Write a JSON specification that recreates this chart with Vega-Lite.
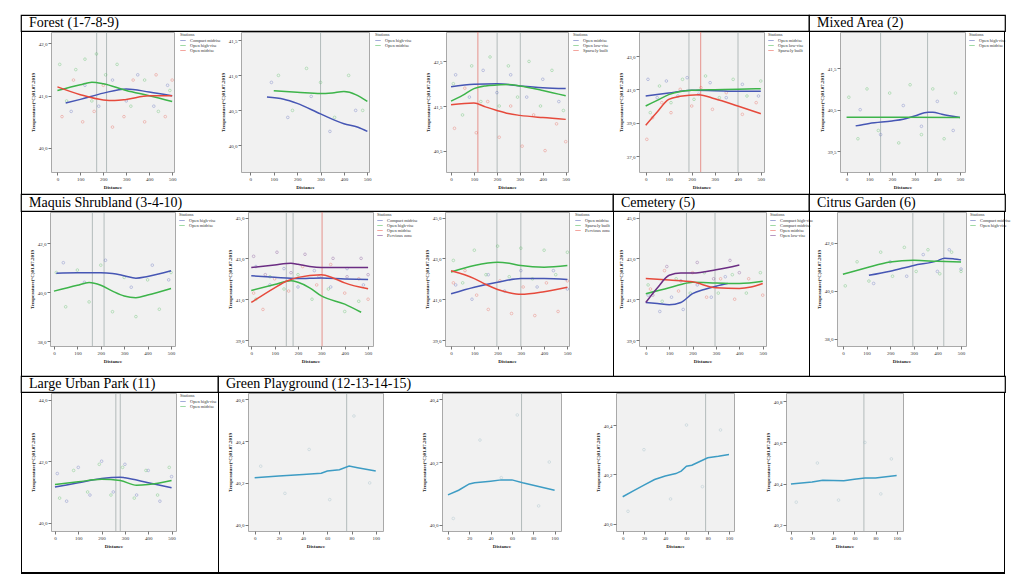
{
"$schema": "https://vega.github.io/schema/vega-lite/v6.json",
"padding": {"left": 20, "top": 14, "right": 0, "bottom": 0},
"background": "white",
"spacing": -3,
"resolve": {"scale": {"color": "independent", "x": "independent", "y": "independent"}, "legend": {"color": "independent"}},
"config": {
  "view": {"stroke": "#a9a9a9", "fill": "#f1f1f1"},
  "axis": {"labelFontSize": 5, "titleFontSize": 5, "labelFont": "Liberation Serif", "titleFont": "Liberation Serif", "grid": false, "domain": false, "tickSize": 3, "tickColor": "#777", "labelColor": "#333", "titleColor": "#222", "labelPadding": 1, "titlePadding": 3, "titleFontWeight": "bold", "labelOverlap": false},
  "legend": {"labelFontSize": 4.5, "titleFontSize": 4.5, "labelFont": "Liberation Serif", "titleFont": "Liberation Serif", "titleFontWeight": "normal", "symbolType": "stroke", "symbolSize": 30, "symbolStrokeWidth": 1.5, "rowPadding": 0, "offset": 4, "padding": 0, "titlePadding": 1, "labelColor": "#333", "titleColor": "#333"},
  "text": {"font": "Liberation Serif", "fontSize": 14, "color": "#000", "align": "left", "baseline": "middle", "dx": 8},
  "point": {"filled": false, "size": 7, "strokeWidth": 0.5, "opacity": 0.6},
  "locale": {"number": {"decimal": ",", "thousands": ".", "grouping": [3], "currency": ["", ""]}}
},
"vconcat": [
  {"hconcat": [
    {"width": 788, "height": 16, "view": {"stroke": "#000", "strokeWidth": 1.2, "fill": "#fff"}, "data": {"values": [{"label": "Forest (1-7-8-9)", "p": 0}]}, "mark": {"type": "text"}, "encoding": {"x": {"field": "p", "type": "quantitative", "scale": {"domain": [0, 1]}, "axis": null}, "text": {"field": "label"}}},
    {"width": 196, "height": 16, "view": {"stroke": "#000", "strokeWidth": 1.2, "fill": "#fff"}, "data": {"values": [{"label": "Mixed Area (2)", "p": 0}]}, "mark": {"type": "text"}, "encoding": {"x": {"field": "p", "type": "quantitative", "scale": {"domain": [0, 1]}, "axis": null}, "text": {"field": "label"}}}
  ], "spacing": 0, "bounds": "flush", "resolve": {"scale": {"x": "independent"}}},
  {"hconcat": [
    {"width": 1, "height": 162, "view": {"fill": "#000", "stroke": null}, "data": {"values": [{}]}, "mark": {"type": "point", "opacity": 0}},
    {"width": 29, "height": 162, "view": {"fill": null, "stroke": null}, "data": {"values": [{}]}, "mark": {"type": "point", "opacity": 0}},
    {"width": 123, "height": 140,
     "data": {"values": [
       {"s":"Compact midrise","d":36,"t":40.86},{"s":"Compact midrise","d":100,"t":40.93},{"s":"Compact midrise","d":200,"t":41.05},{"s":"Compact midrise","d":300,"t":41.13},{"s":"Compact midrise","d":400,"t":41.07},{"s":"Compact midrise","d":500,"t":41.0},
       {"s":"Open high-rise","d":0,"t":41.10},{"s":"Open high-rise","d":100,"t":41.21},{"s":"Open high-rise","d":150,"t":41.26},{"s":"Open high-rise","d":200,"t":41.23},{"s":"Open high-rise","d":300,"t":41.10},{"s":"Open high-rise","d":400,"t":41.0},{"s":"Open high-rise","d":500,"t":40.89},
       {"s":"Open midrise","d":0,"t":41.17},{"s":"Open midrise","d":100,"t":41.02},{"s":"Open midrise","d":200,"t":40.92},{"s":"Open midrise","d":250,"t":40.91},{"s":"Open midrise","d":300,"t":40.93},{"s":"Open midrise","d":400,"t":41.0},{"s":"Open midrise","d":500,"t":41.0}
     ]},
     "encoding": {"x": {"field": "d", "type": "quantitative", "scale": {"domain": [-28, 508], "nice": false, "zero": false}, "axis": {"title": "Distance", "values": [0,100,200,300,400,500], "format": "d"}}},
     "layer": [
       {"data": {"values": [{"d":171},{"d":214}]}, "mark": {"type": "rule", "color": "#a3adad", "strokeWidth": 0.8}, "encoding": {}},
       {"data": {"values": [
         {"s":"Compact midrise","d":60,"t":40.7},{"s":"Compact midrise","d":120,"t":41.2},{"s":"Compact midrise","d":180,"t":40.8},{"s":"Compact midrise","d":240,"t":41.3},{"s":"Compact midrise","d":300,"t":40.9},{"s":"Compact midrise","d":350,"t":41.4},{"s":"Compact midrise","d":420,"t":40.8},{"s":"Compact midrise","d":480,"t":41.2},
         {"s":"Open high-rise","d":10,"t":41.6},{"s":"Open high-rise","d":40,"t":40.9},{"s":"Open high-rise","d":80,"t":41.5},{"s":"Open high-rise","d":120,"t":41.7},{"s":"Open high-rise","d":150,"t":40.9},{"s":"Open high-rise","d":170,"t":41.8},{"s":"Open high-rise","d":210,"t":41.4},{"s":"Open high-rise","d":260,"t":41.6},{"s":"Open high-rise","d":320,"t":40.8},{"s":"Open high-rise","d":380,"t":41.3},{"s":"Open high-rise","d":440,"t":40.7},{"s":"Open high-rise","d":490,"t":41.1},
         {"s":"Open midrise","d":20,"t":40.6},{"s":"Open midrise","d":70,"t":41.3},{"s":"Open midrise","d":110,"t":40.5},{"s":"Open midrise","d":160,"t":40.7},{"s":"Open midrise","d":200,"t":41.2},{"s":"Open midrise","d":240,"t":40.4},{"s":"Open midrise","d":290,"t":40.6},{"s":"Open midrise","d":330,"t":41.3},{"s":"Open midrise","d":380,"t":40.5},{"s":"Open midrise","d":430,"t":41.4},{"s":"Open midrise","d":470,"t":40.6},{"s":"Open midrise","d":500,"t":41.3}
       ]}, "mark": {"type": "point"},
        "encoding": {"y": {"field": "t", "type": "quantitative", "scale": {"domain": [39.54, 42.22], "nice": false, "zero": false}},
          "color": {"field": "s", "type": "nominal", "scale": {"domain": ["Compact midrise","Open high-rise","Open midrise"], "range": ["#4656b4","#3db44a","#e64a3c"]}}}},
       {"mark": {"type": "line", "strokeWidth": 1.5, "interpolate": "monotone"},
        "encoding": {"y": {"field": "t", "type": "quantitative", "scale": {"domain": [39.54, 42.22], "nice": false, "zero": false}, "axis": {"title": "Temperature(°C)01.07.2019", "values": [40,40.5,41,41.5,42], "format": ".1f"}},
          "color": {"field": "s", "type": "nominal", "scale": {"domain": ["Compact midrise","Open high-rise","Open midrise"], "range": ["#4656b4","#3db44a","#e64a3c"]}, "legend": {"title": "Stations"}}}}
     ]},
    {"width": 67, "height": 162, "view": {"fill": null, "stroke": null}, "data": {"values": [{}]}, "mark": {"type": "point", "opacity": 0}},
    {"width": 128, "height": 140,
     "data": {"values": [
       {"s":"Open high-rise","d":71,"t":40.69},{"s":"Open high-rise","d":143,"t":40.66},{"s":"Open high-rise","d":200,"t":40.60},{"s":"Open high-rise","d":300,"t":40.45},{"s":"Open high-rise","d":400,"t":40.31},{"s":"Open high-rise","d":460,"t":40.26},{"s":"Open high-rise","d":500,"t":40.20},
       {"s":"Open midrise","d":100,"t":40.78},{"s":"Open midrise","d":200,"t":40.76},{"s":"Open midrise","d":300,"t":40.74},{"s":"Open midrise","d":350,"t":40.75},{"s":"Open midrise","d":400,"t":40.77},{"s":"Open midrise","d":500,"t":40.63}
     ]},
     "encoding": {"x": {"field": "d", "type": "quantitative", "scale": {"domain": [-40, 507], "nice": false, "zero": false}, "axis": {"title": "Distance", "values": [0,100,200,300,400,500], "format": "d"}}},
     "layer": [
       {"data": {"values": [{"d":300}]}, "mark": {"type": "rule", "color": "#a3adad", "strokeWidth": 0.8}, "encoding": {}},
       {"data": {"values": [
         {"s":"Open high-rise","d":90,"t":40.9},{"s":"Open high-rise","d":160,"t":40.4},{"s":"Open high-rise","d":260,"t":40.7},{"s":"Open high-rise","d":340,"t":40.2},{"s":"Open high-rise","d":450,"t":40.5},
         {"s":"Open midrise","d":120,"t":41.0},{"s":"Open midrise","d":180,"t":40.5},{"s":"Open midrise","d":240,"t":41.1},{"s":"Open midrise","d":300,"t":40.9},{"s":"Open midrise","d":360,"t":40.4},{"s":"Open midrise","d":420,"t":41.0},{"s":"Open midrise","d":480,"t":40.5}
       ]}, "mark": {"type": "point"},
        "encoding": {"y": {"field": "t", "type": "quantitative", "scale": {"domain": [39.62, 41.62], "nice": false, "zero": false}},
          "color": {"field": "s", "type": "nominal", "scale": {"domain": ["Open high-rise","Open midrise"], "range": ["#4656b4","#3db44a"]}}}},
       {"mark": {"type": "line", "strokeWidth": 1.5, "interpolate": "monotone"},
        "encoding": {"y": {"field": "t", "type": "quantitative", "scale": {"domain": [39.62, 41.62], "nice": false, "zero": false}, "axis": {"title": "Temperature(°C)01.07.2019", "values": [40,40.5,41,41.5], "format": ".1f"}},
          "color": {"field": "s", "type": "nominal", "scale": {"domain": ["Open high-rise","Open midrise"], "range": ["#4656b4","#3db44a"]}, "legend": {"title": "Stations"}}}}
     ]},
    {"width": 77, "height": 162, "view": {"fill": null, "stroke": null}, "data": {"values": [{}]}, "mark": {"type": "point", "opacity": 0}},
    {"width": 122, "height": 140,
     "data": {"values": [
       {"s":"Open midrise","d":0,"t":41.93},{"s":"Open midrise","d":100,"t":41.99},{"s":"Open midrise","d":200,"t":42.0},{"s":"Open midrise","d":300,"t":41.95},{"s":"Open midrise","d":400,"t":41.91},{"s":"Open midrise","d":500,"t":41.89},
       {"s":"Open low-rise","d":0,"t":41.61},{"s":"Open low-rise","d":50,"t":41.74},{"s":"Open low-rise","d":100,"t":41.89},{"s":"Open low-rise","d":150,"t":41.95},{"s":"Open low-rise","d":200,"t":41.97},{"s":"Open low-rise","d":250,"t":41.98},{"s":"Open low-rise","d":300,"t":41.95},{"s":"Open low-rise","d":400,"t":41.85},{"s":"Open low-rise","d":500,"t":41.73},
       {"s":"Sparsely built","d":0,"t":41.53},{"s":"Sparsely built","d":100,"t":41.57},{"s":"Sparsely built","d":150,"t":41.48},{"s":"Sparsely built","d":200,"t":41.40},{"s":"Sparsely built","d":250,"t":41.33},{"s":"Sparsely built","d":300,"t":41.29},{"s":"Sparsely built","d":400,"t":41.24},{"s":"Sparsely built","d":500,"t":41.20}
     ]},
     "encoding": {"x": {"field": "d", "type": "quantitative", "scale": {"domain": [-22, 510], "nice": false, "zero": false}, "axis": {"title": "Distance", "values": [0,100,200,300,400,500], "format": "d"}}},
     "layer": [
       {"data": {"values": [{"d":201},{"d":302}]}, "mark": {"type": "rule", "color": "#a3adad", "strokeWidth": 0.8}, "encoding": {}},
       {"data": {"values": [{"d":117}]}, "mark": {"type": "rule", "color": "#e27a72", "strokeWidth": 0.8}, "encoding": {}},
       {"data": {"values": [
         {"s":"Open midrise","d":20,"t":42.2},{"s":"Open midrise","d":80,"t":41.7},{"s":"Open midrise","d":140,"t":42.3},{"s":"Open midrise","d":200,"t":41.8},{"s":"Open midrise","d":260,"t":42.2},{"s":"Open midrise","d":330,"t":41.7},{"s":"Open midrise","d":400,"t":42.1},{"s":"Open midrise","d":470,"t":41.6},
         {"s":"Open low-rise","d":10,"t":42.0},{"s":"Open low-rise","d":50,"t":41.3},{"s":"Open low-rise","d":90,"t":42.4},{"s":"Open low-rise","d":130,"t":41.6},{"s":"Open low-rise","d":170,"t":42.6},{"s":"Open low-rise","d":210,"t":41.5},{"s":"Open low-rise","d":250,"t":42.4},{"s":"Open low-rise","d":290,"t":41.7},{"s":"Open low-rise","d":340,"t":42.5},{"s":"Open low-rise","d":390,"t":41.5},{"s":"Open low-rise","d":440,"t":42.3},{"s":"Open low-rise","d":490,"t":41.4},
         {"s":"Sparsely built","d":15,"t":41.0},{"s":"Sparsely built","d":60,"t":41.9},{"s":"Sparsely built","d":110,"t":40.9},{"s":"Sparsely built","d":160,"t":41.6},{"s":"Sparsely built","d":210,"t":40.8},{"s":"Sparsely built","d":260,"t":41.5},{"s":"Sparsely built","d":310,"t":40.6},{"s":"Sparsely built","d":360,"t":41.3},{"s":"Sparsely built","d":410,"t":40.5},{"s":"Sparsely built","d":460,"t":41.1},{"s":"Sparsely built","d":500,"t":40.7}
       ]}, "mark": {"type": "point"},
        "encoding": {"y": {"field": "t", "type": "quantitative", "scale": {"domain": [40.02, 43.16], "nice": false, "zero": false}},
          "color": {"field": "s", "type": "nominal", "scale": {"domain": ["Open midrise","Open low-rise","Sparsely built"], "range": ["#4656b4","#3db44a","#e64a3c"]}}}},
       {"mark": {"type": "line", "strokeWidth": 1.5, "interpolate": "monotone"},
        "encoding": {"y": {"field": "t", "type": "quantitative", "scale": {"domain": [40.02, 43.16], "nice": false, "zero": false}, "axis": {"title": "Temperature(°C)01.07.2019", "values": [40.5,41,41.5,42,42.5,43], "format": ".1f"}},
          "color": {"field": "s", "type": "nominal", "scale": {"domain": ["Open midrise","Open low-rise","Sparsely built"], "range": ["#4656b4","#3db44a","#e64a3c"]}, "legend": {"title": "Stations"}}}}
     ]},
    {"width": 71, "height": 162, "view": {"fill": null, "stroke": null}, "data": {"values": [{}]}, "mark": {"type": "point", "opacity": 0}},
    {"width": 125, "height": 140,
     "data": {"values": [
       {"s":"Open midrise","d":0,"t":40.6},{"s":"Open midrise","d":100,"t":40.78},{"s":"Open midrise","d":200,"t":40.94},{"s":"Open midrise","d":300,"t":40.92},{"s":"Open midrise","d":400,"t":40.88},{"s":"Open midrise","d":500,"t":40.88},
       {"s":"Open low-rise","d":0,"t":40.0},{"s":"Open low-rise","d":50,"t":40.34},{"s":"Open low-rise","d":100,"t":40.68},{"s":"Open low-rise","d":200,"t":40.94},{"s":"Open low-rise","d":300,"t":40.98},{"s":"Open low-rise","d":400,"t":41.0},{"s":"Open low-rise","d":500,"t":41.04},
       {"s":"Sparsely built","d":0,"t":38.84},{"s":"Sparsely built","d":50,"t":39.64},{"s":"Sparsely built","d":100,"t":40.4},{"s":"Sparsely built","d":150,"t":40.58},{"s":"Sparsely built","d":230,"t":40.68},{"s":"Sparsely built","d":300,"t":40.44},{"s":"Sparsely built","d":400,"t":40.0},{"s":"Sparsely built","d":500,"t":39.54}
     ]},
     "encoding": {"x": {"field": "d", "type": "quantitative", "scale": {"domain": [-29, 514], "nice": false, "zero": false}, "axis": {"title": "Distance", "values": [0,100,200,300,400,500], "format": "d"}}},
     "layer": [
       {"data": {"values": [{"d":188},{"d":401}]}, "mark": {"type": "rule", "color": "#a3adad", "strokeWidth": 0.8}, "encoding": {}},
       {"data": {"values": [{"d":239}]}, "mark": {"type": "rule", "color": "#e27a72", "strokeWidth": 0.8}, "encoding": {}},
       {"data": {"values": [
         {"s":"Open midrise","d":10,"t":41.6},{"s":"Open midrise","d":50,"t":40.5},{"s":"Open midrise","d":90,"t":41.5},{"s":"Open midrise","d":140,"t":40.6},{"s":"Open midrise","d":180,"t":41.7},{"s":"Open midrise","d":230,"t":40.7},{"s":"Open midrise","d":280,"t":41.4},{"s":"Open midrise","d":350,"t":40.5},{"s":"Open midrise","d":420,"t":41.3},{"s":"Open midrise","d":490,"t":40.6},
         {"s":"Open low-rise","d":20,"t":39.6},{"s":"Open low-rise","d":60,"t":41.2},{"s":"Open low-rise","d":110,"t":40.2},{"s":"Open low-rise","d":160,"t":41.6},{"s":"Open low-rise","d":210,"t":40.4},{"s":"Open low-rise","d":260,"t":41.8},{"s":"Open low-rise","d":320,"t":40.5},{"s":"Open low-rise","d":380,"t":41.6},{"s":"Open low-rise","d":440,"t":40.6},{"s":"Open low-rise","d":500,"t":41.5},
         {"s":"Sparsely built","d":5,"t":38.0},{"s":"Sparsely built","d":30,"t":39.3},{"s":"Sparsely built","d":70,"t":40.2},{"s":"Sparsely built","d":110,"t":39.6},{"s":"Sparsely built","d":150,"t":41.0},{"s":"Sparsely built","d":200,"t":40.0},{"s":"Sparsely built","d":240,"t":41.1},{"s":"Sparsely built","d":290,"t":39.8},{"s":"Sparsely built","d":350,"t":40.8},{"s":"Sparsely built","d":420,"t":39.5},{"s":"Sparsely built","d":480,"t":40.2}
       ]}, "mark": {"type": "point"},
        "encoding": {"y": {"field": "t", "type": "quantitative", "scale": {"domain": [36.04, 44.44], "nice": false, "zero": false}},
          "color": {"field": "s", "type": "nominal", "scale": {"domain": ["Open midrise","Open low-rise","Sparsely built"], "range": ["#4656b4","#3db44a","#e64a3c"]}}}},
       {"mark": {"type": "line", "strokeWidth": 1.5, "interpolate": "monotone"},
        "encoding": {"y": {"field": "t", "type": "quantitative", "scale": {"domain": [36.04, 44.44], "nice": false, "zero": false}, "axis": {"title": "Temperature(°C)01.07.2019", "values": [37,38,39,40,41,42,43,44], "format": ".1f"}},
          "color": {"field": "s", "type": "nominal", "scale": {"domain": ["Open midrise","Open low-rise","Sparsely built"], "range": ["#4656b4","#3db44a","#e64a3c"]}, "legend": {"title": "Stations"}}}}
     ]},
    {"width": 45, "height": 162, "view": {"fill": null, "stroke": null}, "data": {"values": [{}]}, "mark": {"type": "point", "opacity": 0}},
    {"width": 1, "height": 162, "view": {"fill": "#000", "stroke": null}, "data": {"values": [{}]}, "mark": {"type": "point", "opacity": 0}},
    {"width": 30, "height": 162, "view": {"fill": null, "stroke": null}, "data": {"values": [{}]}, "mark": {"type": "point", "opacity": 0}},
    {"width": 125, "height": 140,
     "data": {"values": [
       {"s":"Open high-rise","d":40,"t":40.11},{"s":"Open high-rise","d":100,"t":40.17},{"s":"Open high-rise","d":200,"t":40.23},{"s":"Open high-rise","d":250,"t":40.27},{"s":"Open high-rise","d":300,"t":40.35},{"s":"Open high-rise","d":360,"t":40.44},{"s":"Open high-rise","d":380,"t":40.44},{"s":"Open high-rise","d":420,"t":40.39},{"s":"Open high-rise","d":500,"t":40.31},
       {"s":"Open midrise","d":0,"t":40.32},{"s":"Open midrise","d":250,"t":40.32},{"s":"Open midrise","d":500,"t":40.31}
     ]},
     "encoding": {"x": {"field": "d", "type": "quantitative", "scale": {"domain": [-29, 522], "nice": false, "zero": false}, "axis": {"title": "Distance", "values": [0,100,200,300,400,500], "format": "d"}}},
     "layer": [
       {"data": {"values": [{"d":150},{"d":357}]}, "mark": {"type": "rule", "color": "#a3adad", "strokeWidth": 0.8}, "encoding": {}},
       {"data": {"values": [
         {"s":"Open high-rise","d":60,"t":40.5},{"s":"Open high-rise","d":150,"t":39.9},{"s":"Open high-rise","d":250,"t":40.6},{"s":"Open high-rise","d":330,"t":40.1},{"s":"Open high-rise","d":400,"t":40.7},{"s":"Open high-rise","d":470,"t":40.0},
         {"s":"Open midrise","d":10,"t":40.8},{"s":"Open midrise","d":50,"t":39.8},{"s":"Open midrise","d":90,"t":41.0},{"s":"Open midrise","d":140,"t":40.0},{"s":"Open midrise","d":190,"t":40.9},{"s":"Open midrise","d":230,"t":39.7},{"s":"Open midrise","d":280,"t":41.1},{"s":"Open midrise","d":330,"t":39.9},{"s":"Open midrise","d":380,"t":41.0},{"s":"Open midrise","d":430,"t":39.8},{"s":"Open midrise","d":480,"t":40.9}
       ]}, "mark": {"type": "point"},
        "encoding": {"y": {"field": "t", "type": "quantitative", "scale": {"domain": [39.0, 42.37], "nice": false, "zero": false}},
          "color": {"field": "s", "type": "nominal", "scale": {"domain": ["Open high-rise","Open midrise"], "range": ["#4656b4","#3db44a"]}}}},
       {"mark": {"type": "line", "strokeWidth": 1.5, "interpolate": "monotone"},
        "encoding": {"y": {"field": "t", "type": "quantitative", "scale": {"domain": [39.0, 42.37], "nice": false, "zero": false}, "axis": {"title": "Temperature(°C)01.07.2019", "values": [39.5,40,40.5,41,41.5,42], "format": ".1f"}},
          "color": {"field": "s", "type": "nominal", "scale": {"domain": ["Open high-rise","Open midrise"], "range": ["#4656b4","#3db44a"]}, "legend": {"title": "Stations"}}}}
     ]},
    {"width": 39, "height": 162, "view": {"fill": null, "stroke": null}, "data": {"values": [{}]}, "mark": {"type": "point", "opacity": 0}},
    {"width": 1, "height": 162, "view": {"fill": "#000", "stroke": null}, "data": {"values": [{}]}, "mark": {"type": "point", "opacity": 0}}
  ], "spacing": 0, "bounds": "flush", "resolve": {"scale": {"color": "independent", "x": "independent", "y": "independent"}, "legend": {"color": "independent"}}},
  {"hconcat": [
    {"width": 592, "height": 17, "view": {"stroke": "#000", "strokeWidth": 1.2, "fill": "#fff"}, "data": {"values": [{"label": "Maquis Shrubland (3-4-10)", "p": 0}]}, "mark": {"type": "text"}, "encoding": {"x": {"field": "p", "type": "quantitative", "scale": {"domain": [0, 1]}, "axis": null}, "text": {"field": "label"}}},
    {"width": 196, "height": 17, "view": {"stroke": "#000", "strokeWidth": 1.2, "fill": "#fff"}, "data": {"values": [{"label": "Cemetery (5)", "p": 0}]}, "mark": {"type": "text"}, "encoding": {"x": {"field": "p", "type": "quantitative", "scale": {"domain": [0, 1]}, "axis": null}, "text": {"field": "label"}}},
    {"width": 196, "height": 17, "view": {"stroke": "#000", "strokeWidth": 1.2, "fill": "#fff"}, "data": {"values": [{"label": "Citrus Garden (6)", "p": 0}]}, "mark": {"type": "text"}, "encoding": {"x": {"field": "p", "type": "quantitative", "scale": {"domain": [0, 1]}, "axis": null}, "text": {"field": "label"}}}
  ], "spacing": 0, "bounds": "flush", "resolve": {"scale": {"x": "independent"}}},
  {"hconcat": [
    {"width": 1, "height": 164, "view": {"fill": "#000", "stroke": null}, "data": {"values": [{}]}, "mark": {"type": "point", "opacity": 0}},
    {"width": 28, "height": 164, "view": {"fill": null, "stroke": null}, "data": {"values": [{}]}, "mark": {"type": "point", "opacity": 0}},
    {"width": 125, "height": 134,
     "data": {"values": [
       {"s":"Open high-rise","d":10,"t":40.77},{"s":"Open high-rise","d":100,"t":40.79},{"s":"Open high-rise","d":200,"t":40.79},{"s":"Open high-rise","d":250,"t":40.76},{"s":"Open high-rise","d":300,"t":40.67},{"s":"Open high-rise","d":350,"t":40.57},{"s":"Open high-rise","d":400,"t":40.64},{"s":"Open high-rise","d":500,"t":40.87},
       {"s":"Open midrise","d":0,"t":40.04},{"s":"Open midrise","d":100,"t":40.28},{"s":"Open midrise","d":150,"t":40.39},{"s":"Open midrise","d":200,"t":40.28},{"s":"Open midrise","d":250,"t":40.04},{"s":"Open midrise","d":300,"t":39.84},{"s":"Open midrise","d":350,"t":39.77},{"s":"Open midrise","d":400,"t":39.88},{"s":"Open midrise","d":500,"t":40.15}
     ]},
     "encoding": {"x": {"field": "d", "type": "quantitative", "scale": {"domain": [-17, 517], "nice": false, "zero": false}, "axis": {"title": "Distance", "values": [0,100,200,300,400,500], "format": "d"}}},
     "layer": [
       {"data": {"values": [{"d":164},{"d":214}]}, "mark": {"type": "rule", "color": "#a3adad", "strokeWidth": 0.8}, "encoding": {}},
       {"data": {"values": [
         {"s":"Open high-rise","d":40,"t":41.2},{"s":"Open high-rise","d":130,"t":40.4},{"s":"Open high-rise","d":220,"t":41.3},{"s":"Open high-rise","d":330,"t":40.2},{"s":"Open high-rise","d":420,"t":41.1},{"s":"Open high-rise","d":490,"t":40.5},
         {"s":"Open midrise","d":10,"t":40.8},{"s":"Open midrise","d":50,"t":39.4},{"s":"Open midrise","d":100,"t":40.9},{"s":"Open midrise","d":150,"t":39.6},{"s":"Open midrise","d":200,"t":41.1},{"s":"Open midrise","d":250,"t":39.2},{"s":"Open midrise","d":300,"t":40.6},{"s":"Open midrise","d":350,"t":39.0},{"s":"Open midrise","d":400,"t":40.5},{"s":"Open midrise","d":450,"t":39.3},{"s":"Open midrise","d":500,"t":40.8}
       ]}, "mark": {"type": "point"},
        "encoding": {"y": {"field": "t", "type": "quantitative", "scale": {"domain": [37.8, 43.27], "nice": false, "zero": false}},
          "color": {"field": "s", "type": "nominal", "scale": {"domain": ["Open high-rise","Open midrise"], "range": ["#4656b4","#3db44a"]}}}},
       {"mark": {"type": "line", "strokeWidth": 1.5, "interpolate": "monotone"},
        "encoding": {"y": {"field": "t", "type": "quantitative", "scale": {"domain": [37.8, 43.27], "nice": false, "zero": false}, "axis": {"title": "Temperature(°C)01.07.2019", "values": [38,39,40,41,42,43], "format": ".1f"}},
          "color": {"field": "s", "type": "nominal", "scale": {"domain": ["Open high-rise","Open midrise"], "range": ["#4656b4","#3db44a"]}, "legend": {"title": "Stations"}}}}
     ]},
    {"width": 73, "height": 164, "view": {"fill": null, "stroke": null}, "data": {"values": [{}]}, "mark": {"type": "point", "opacity": 0}},
    {"width": 125, "height": 134,
     "data": {"values": [
       {"s":"Compact midrise","d":0,"t":42.15},{"s":"Compact midrise","d":100,"t":42.07},{"s":"Compact midrise","d":200,"t":42.01},{"s":"Compact midrise","d":300,"t":42.04},{"s":"Compact midrise","d":400,"t":41.99},{"s":"Compact midrise","d":500,"t":41.96},
       {"s":"Open high-rise","d":0,"t":41.43},{"s":"Open high-rise","d":100,"t":41.72},{"s":"Open high-rise","d":170,"t":41.91},{"s":"Open high-rise","d":200,"t":41.83},{"s":"Open high-rise","d":250,"t":41.56},{"s":"Open high-rise","d":300,"t":41.16},{"s":"Open high-rise","d":400,"t":40.76},{"s":"Open high-rise","d":470,"t":40.36},
       {"s":"Open midrise","d":0,"t":40.84},{"s":"Open midrise","d":100,"t":41.56},{"s":"Open midrise","d":150,"t":41.88},{"s":"Open midrise","d":200,"t":42.07},{"s":"Open midrise","d":300,"t":42.2},{"s":"Open midrise","d":350,"t":42.04},{"s":"Open midrise","d":400,"t":41.8},{"s":"Open midrise","d":500,"t":41.51},
       {"s":"Pervious zone","d":0,"t":42.55},{"s":"Pervious zone","d":100,"t":42.68},{"s":"Pervious zone","d":170,"t":42.76},{"s":"Pervious zone","d":200,"t":42.71},{"s":"Pervious zone","d":250,"t":42.6},{"s":"Pervious zone","d":300,"t":42.55},{"s":"Pervious zone","d":400,"t":42.55},{"s":"Pervious zone","d":500,"t":42.55}
     ]},
     "encoding": {"x": {"field": "d", "type": "quantitative", "scale": {"domain": [-14, 521], "nice": false, "zero": false}, "axis": {"title": "Distance", "values": [0,100,200,300,400,500], "format": "d"}}},
     "layer": [
       {"data": {"values": [{"d":150},{"d":179}]}, "mark": {"type": "rule", "color": "#a3adad", "strokeWidth": 0.8}, "encoding": {}},
       {"data": {"values": [{"d":303}]}, "mark": {"type": "rule", "color": "#e27a72", "strokeWidth": 0.8}, "encoding": {}},
       {"data": {"values": [
         {"s":"Compact midrise","d":20,"t":42.6},{"s":"Compact midrise","d":80,"t":41.7},{"s":"Compact midrise","d":140,"t":42.5},{"s":"Compact midrise","d":200,"t":41.6},{"s":"Compact midrise","d":270,"t":42.4},{"s":"Compact midrise","d":340,"t":41.6},{"s":"Compact midrise","d":410,"t":42.5},{"s":"Compact midrise","d":480,"t":41.7},
         {"s":"Open high-rise","d":20,"t":41.0},{"s":"Open high-rise","d":80,"t":42.1},{"s":"Open high-rise","d":140,"t":41.5},{"s":"Open high-rise","d":200,"t":42.2},{"s":"Open high-rise","d":260,"t":41.0},{"s":"Open high-rise","d":330,"t":41.5},{"s":"Open high-rise","d":400,"t":40.4},{"s":"Open high-rise","d":460,"t":40.9},
         {"s":"Open midrise","d":10,"t":41.3},{"s":"Open midrise","d":50,"t":40.5},{"s":"Open midrise","d":100,"t":42.0},{"s":"Open midrise","d":160,"t":41.4},{"s":"Open midrise","d":220,"t":42.6},{"s":"Open midrise","d":280,"t":41.7},{"s":"Open midrise","d":340,"t":42.7},{"s":"Open midrise","d":400,"t":41.3},{"s":"Open midrise","d":460,"t":42.0},{"s":"Open midrise","d":500,"t":41.0},
         {"s":"Pervious zone","d":10,"t":43.1},{"s":"Pervious zone","d":60,"t":42.2},{"s":"Pervious zone","d":110,"t":43.3},{"s":"Pervious zone","d":170,"t":42.3},{"s":"Pervious zone","d":230,"t":43.2},{"s":"Pervious zone","d":290,"t":42.1},{"s":"Pervious zone","d":350,"t":43.0},{"s":"Pervious zone","d":410,"t":42.1},{"s":"Pervious zone","d":470,"t":43.0},{"s":"Pervious zone","d":500,"t":42.2}
       ]}, "mark": {"type": "point"},
        "encoding": {"y": {"field": "t", "type": "quantitative", "scale": {"domain": [38.71, 45.27], "nice": false, "zero": false}},
          "color": {"field": "s", "type": "nominal", "scale": {"domain": ["Compact midrise","Open high-rise","Open midrise","Pervious zone"], "range": ["#4656b4","#3db44a","#e64a3c","#6b2d83"]}}}},
       {"mark": {"type": "line", "strokeWidth": 1.5, "interpolate": "monotone"},
        "encoding": {"y": {"field": "t", "type": "quantitative", "scale": {"domain": [38.71, 45.27], "nice": false, "zero": false}, "axis": {"title": "Temperature(°C)01.07.2019", "values": [39,40,41,42,43,44,45], "format": ".1f"}},
          "color": {"field": "s", "type": "nominal", "scale": {"domain": ["Compact midrise","Open high-rise","Open midrise","Pervious zone"], "range": ["#4656b4","#3db44a","#e64a3c","#6b2d83"]}, "legend": {"title": "Stations"}}}}
     ]},
    {"width": 72, "height": 164, "view": {"fill": null, "stroke": null}, "data": {"values": [{}]}, "mark": {"type": "point", "opacity": 0}},
    {"width": 124, "height": 134,
     "data": {"values": [
       {"s":"Open midrise","d":0,"t":41.27},{"s":"Open midrise","d":100,"t":41.59},{"s":"Open midrise","d":200,"t":41.83},{"s":"Open midrise","d":300,"t":42.01},{"s":"Open midrise","d":400,"t":42.01},{"s":"Open midrise","d":500,"t":41.96},
       {"s":"Sparsely built","d":0,"t":42.33},{"s":"Sparsely built","d":100,"t":42.65},{"s":"Sparsely built","d":200,"t":42.81},{"s":"Sparsely built","d":250,"t":42.76},{"s":"Sparsely built","d":300,"t":42.65},{"s":"Sparsely built","d":400,"t":42.57},{"s":"Sparsely built","d":500,"t":42.65},
       {"s":"Pervious zone","d":0,"t":42.39},{"s":"Pervious zone","d":100,"t":42.01},{"s":"Pervious zone","d":150,"t":41.72},{"s":"Pervious zone","d":200,"t":41.48},{"s":"Pervious zone","d":250,"t":41.32},{"s":"Pervious zone","d":300,"t":41.24},{"s":"Pervious zone","d":400,"t":41.37},{"s":"Pervious zone","d":500,"t":41.59}
     ]},
     "encoding": {"x": {"field": "d", "type": "quantitative", "scale": {"domain": [-26, 507], "nice": false, "zero": false}, "axis": {"title": "Distance", "values": [0,100,200,300,400,500], "format": "d"}}},
     "layer": [
       {"data": {"values": [{"d":197},{"d":300}]}, "mark": {"type": "rule", "color": "#a3adad", "strokeWidth": 0.8}, "encoding": {}},
       {"data": {"values": [
         {"s":"Open midrise","d":20,"t":41.7},{"s":"Open midrise","d":90,"t":41.0},{"s":"Open midrise","d":160,"t":42.2},{"s":"Open midrise","d":230,"t":41.4},{"s":"Open midrise","d":300,"t":42.4},{"s":"Open midrise","d":370,"t":41.6},{"s":"Open midrise","d":440,"t":42.4},{"s":"Open midrise","d":500,"t":41.5},
         {"s":"Sparsely built","d":10,"t":42.9},{"s":"Sparsely built","d":50,"t":41.8},{"s":"Sparsely built","d":100,"t":43.4},{"s":"Sparsely built","d":150,"t":42.2},{"s":"Sparsely built","d":200,"t":43.6},{"s":"Sparsely built","d":250,"t":42.1},{"s":"Sparsely built","d":300,"t":43.5},{"s":"Sparsely built","d":350,"t":42.0},{"s":"Sparsely built","d":400,"t":43.4},{"s":"Sparsely built","d":450,"t":42.2},{"s":"Sparsely built","d":500,"t":43.3},
         {"s":"Pervious zone","d":10,"t":41.8},{"s":"Pervious zone","d":60,"t":42.4},{"s":"Pervious zone","d":110,"t":41.2},{"s":"Pervious zone","d":160,"t":40.5},{"s":"Pervious zone","d":210,"t":41.9},{"s":"Pervious zone","d":260,"t":40.3},{"s":"Pervious zone","d":310,"t":41.6},{"s":"Pervious zone","d":360,"t":40.2},{"s":"Pervious zone","d":410,"t":41.8},{"s":"Pervious zone","d":460,"t":40.4},{"s":"Pervious zone","d":500,"t":41.9}
       ]}, "mark": {"type": "point"},
        "encoding": {"y": {"field": "t", "type": "quantitative", "scale": {"domain": [38.71, 45.27], "nice": false, "zero": false}},
          "color": {"field": "s", "type": "nominal", "scale": {"domain": ["Open midrise","Sparsely built","Pervious zone"], "range": ["#4656b4","#3db44a","#e64a3c"]}}}},
       {"mark": {"type": "line", "strokeWidth": 1.5, "interpolate": "monotone"},
        "encoding": {"y": {"field": "t", "type": "quantitative", "scale": {"domain": [38.71, 45.27], "nice": false, "zero": false}, "axis": {"title": "Temperature(°C)01.07.2019", "values": [39,40,41,42,43,44,45], "format": ".1f"}},
          "color": {"field": "s", "type": "nominal", "scale": {"domain": ["Open midrise","Sparsely built","Pervious zone"], "range": ["#4656b4","#3db44a","#e64a3c"]}, "legend": {"title": "Stations"}}}}
     ]},
    {"width": 44, "height": 164, "view": {"fill": null, "stroke": null}, "data": {"values": [{}]}, "mark": {"type": "point", "opacity": 0}},
    {"width": 1, "height": 164, "view": {"fill": "#000", "stroke": null}, "data": {"values": [{}]}, "mark": {"type": "point", "opacity": 0}},
    {"width": 25, "height": 164, "view": {"fill": null, "stroke": null}, "data": {"values": [{}]}, "mark": {"type": "point", "opacity": 0}},
    {"width": 127, "height": 134,
     "data": {"values": [
       {"s":"Compact high-rise","d":0,"t":40.84},{"s":"Compact high-rise","d":50,"t":40.79},{"s":"Compact high-rise","d":100,"t":40.73},{"s":"Compact high-rise","d":150,"t":40.84},{"s":"Compact high-rise","d":200,"t":41.27},{"s":"Compact high-rise","d":250,"t":41.48},{"s":"Compact high-rise","d":300,"t":41.64},{"s":"Compact high-rise","d":350,"t":41.77},
       {"s":"Compact midrise","d":0,"t":41.27},{"s":"Compact midrise","d":100,"t":41.56},{"s":"Compact midrise","d":150,"t":41.72},{"s":"Compact midrise","d":200,"t":41.83},{"s":"Compact midrise","d":300,"t":41.8},{"s":"Compact midrise","d":400,"t":41.77},{"s":"Compact midrise","d":500,"t":41.88},
       {"s":"Open midrise","d":0,"t":42.01},{"s":"Open midrise","d":100,"t":41.94},{"s":"Open midrise","d":200,"t":41.85},{"s":"Open midrise","d":300,"t":41.56},{"s":"Open midrise","d":400,"t":41.53},{"s":"Open midrise","d":450,"t":41.6},{"s":"Open midrise","d":500,"t":41.77},
       {"s":"Open low-rise","d":0,"t":40.84},{"s":"Open low-rise","d":50,"t":41.56},{"s":"Open low-rise","d":100,"t":42.17},{"s":"Open low-rise","d":150,"t":42.28},{"s":"Open low-rise","d":200,"t":42.28},{"s":"Open low-rise","d":300,"t":42.44},{"s":"Open low-rise","d":400,"t":42.68}
     ]},
     "encoding": {"x": {"field": "d", "type": "quantitative", "scale": {"domain": [-29, 514], "nice": false, "zero": false}, "axis": {"title": "Distance", "values": [0,100,200,300,400,500], "format": "d"}}},
     "layer": [
       {"data": {"values": [{"d":174},{"d":296}]}, "mark": {"type": "rule", "color": "#a3adad", "strokeWidth": 0.8}, "encoding": {}},
       {"data": {"values": [
         {"s":"Compact high-rise","d":10,"t":41.2},{"s":"Compact high-rise","d":60,"t":40.4},{"s":"Compact high-rise","d":110,"t":41.1},{"s":"Compact high-rise","d":160,"t":40.5},{"s":"Compact high-rise","d":220,"t":41.7},{"s":"Compact high-rise","d":280,"t":41.1},{"s":"Compact high-rise","d":340,"t":42.1},
         {"s":"Compact midrise","d":10,"t":41.7},{"s":"Compact midrise","d":70,"t":40.9},{"s":"Compact midrise","d":130,"t":42.0},{"s":"Compact midrise","d":190,"t":41.3},{"s":"Compact midrise","d":250,"t":42.3},{"s":"Compact midrise","d":310,"t":41.3},{"s":"Compact midrise","d":370,"t":42.2},{"s":"Compact midrise","d":430,"t":41.3},{"s":"Compact midrise","d":490,"t":42.3},
         {"s":"Open midrise","d":20,"t":41.5},{"s":"Open midrise","d":80,"t":42.4},{"s":"Open midrise","d":140,"t":41.4},{"s":"Open midrise","d":200,"t":42.3},{"s":"Open midrise","d":260,"t":41.1},{"s":"Open midrise","d":320,"t":42.0},{"s":"Open midrise","d":380,"t":41.0},{"s":"Open midrise","d":440,"t":42.0},{"s":"Open midrise","d":500,"t":41.2},
         {"s":"Open low-rise","d":30,"t":41.2},{"s":"Open low-rise","d":90,"t":42.6},{"s":"Open low-rise","d":150,"t":41.9},{"s":"Open low-rise","d":220,"t":42.8},{"s":"Open low-rise","d":290,"t":42.0},{"s":"Open low-rise","d":360,"t":42.9},{"s":"Open low-rise","d":400,"t":42.3}
       ]}, "mark": {"type": "point"},
        "encoding": {"y": {"field": "t", "type": "quantitative", "scale": {"domain": [38.71, 45.27], "nice": false, "zero": false}},
          "color": {"field": "s", "type": "nominal", "scale": {"domain": ["Compact high-rise","Compact midrise","Open midrise","Open low-rise"], "range": ["#4656b4","#3db44a","#e64a3c","#6b2d83"]}}}},
       {"mark": {"type": "line", "strokeWidth": 1.5, "interpolate": "monotone"},
        "encoding": {"y": {"field": "t", "type": "quantitative", "scale": {"domain": [38.71, 45.27], "nice": false, "zero": false}, "axis": {"title": "Temperature(°C)01.07.2019", "values": [39,40,41,42,43,44,45], "format": ".1f"}},
          "color": {"field": "s", "type": "nominal", "scale": {"domain": ["Compact high-rise","Compact midrise","Open midrise","Open low-rise"], "range": ["#4656b4","#3db44a","#e64a3c","#6b2d83"]}, "legend": {"title": "Stations"}}}}
     ]},
    {"width": 43, "height": 164, "view": {"fill": null, "stroke": null}, "data": {"values": [{}]}, "mark": {"type": "point", "opacity": 0}},
    {"width": 1, "height": 164, "view": {"fill": "#000", "stroke": null}, "data": {"values": [{}]}, "mark": {"type": "point", "opacity": 0}},
    {"width": 27, "height": 164, "view": {"fill": null, "stroke": null}, "data": {"values": [{}]}, "mark": {"type": "point", "opacity": 0}},
    {"width": 129, "height": 134,
     "data": {"values": [
       {"s":"Compact midrise","d":110,"t":40.64},{"s":"Compact midrise","d":200,"t":40.81},{"s":"Compact midrise","d":300,"t":41.05},{"s":"Compact midrise","d":400,"t":41.24},{"s":"Compact midrise","d":430,"t":41.35},{"s":"Compact midrise","d":470,"t":41.32},{"s":"Compact midrise","d":500,"t":41.28},
       {"s":"Open high-rise","d":0,"t":40.68},{"s":"Open high-rise","d":100,"t":40.95},{"s":"Open high-rise","d":200,"t":41.19},{"s":"Open high-rise","d":300,"t":41.26},{"s":"Open high-rise","d":400,"t":41.22},{"s":"Open high-rise","d":500,"t":41.19}
     ]},
     "encoding": {"x": {"field": "d", "type": "quantitative", "scale": {"domain": [-25, 521], "nice": false, "zero": false}, "axis": {"title": "Distance", "values": [0,100,200,300,400,500], "format": "d"}}},
     "layer": [
       {"data": {"values": [{"d":296},{"d":427}]}, "mark": {"type": "rule", "color": "#a3adad", "strokeWidth": 0.8}, "encoding": {}},
       {"data": {"values": [
         {"s":"Compact midrise","d":130,"t":40.3},{"s":"Compact midrise","d":200,"t":41.2},{"s":"Compact midrise","d":270,"t":40.6},{"s":"Compact midrise","d":340,"t":41.5},{"s":"Compact midrise","d":400,"t":40.8},{"s":"Compact midrise","d":450,"t":41.7},{"s":"Compact midrise","d":500,"t":40.9},
         {"s":"Open high-rise","d":10,"t":40.2},{"s":"Open high-rise","d":60,"t":41.2},{"s":"Open high-rise","d":110,"t":40.4},{"s":"Open high-rise","d":160,"t":41.6},{"s":"Open high-rise","d":210,"t":40.6},{"s":"Open high-rise","d":260,"t":41.8},{"s":"Open high-rise","d":310,"t":40.8},{"s":"Open high-rise","d":360,"t":41.7},{"s":"Open high-rise","d":410,"t":40.7},{"s":"Open high-rise","d":460,"t":41.6},{"s":"Open high-rise","d":500,"t":40.8}
       ]}, "mark": {"type": "point"},
        "encoding": {"y": {"field": "t", "type": "quantitative", "scale": {"domain": [37.7, 43.27], "nice": false, "zero": false}},
          "color": {"field": "s", "type": "nominal", "scale": {"domain": ["Compact midrise","Open high-rise"], "range": ["#4656b4","#3db44a"]}}}},
       {"mark": {"type": "line", "strokeWidth": 1.5, "interpolate": "monotone"},
        "encoding": {"y": {"field": "t", "type": "quantitative", "scale": {"domain": [37.7, 43.27], "nice": false, "zero": false}, "axis": {"title": "Temperature(°C)01.07.2019", "values": [38,39,40,41,42,43], "format": ".1f"}},
          "color": {"field": "s", "type": "nominal", "scale": {"domain": ["Compact midrise","Open high-rise"], "range": ["#4656b4","#3db44a"]}, "legend": {"title": "Stations"}}}}
     ]},
    {"width": 38, "height": 164, "view": {"fill": null, "stroke": null}, "data": {"values": [{}]}, "mark": {"type": "point", "opacity": 0}},
    {"width": 1, "height": 164, "view": {"fill": "#000", "stroke": null}, "data": {"values": [{}]}, "mark": {"type": "point", "opacity": 0}}
  ], "spacing": 0, "bounds": "flush", "resolve": {"scale": {"color": "independent", "x": "independent", "y": "independent"}, "legend": {"color": "independent"}}},
  {"hconcat": [
    {"width": 197, "height": 16, "view": {"stroke": "#000", "strokeWidth": 1.2, "fill": "#fff"}, "data": {"values": [{"label": "Large Urban Park (11)", "p": 0}]}, "mark": {"type": "text"}, "encoding": {"x": {"field": "p", "type": "quantitative", "scale": {"domain": [0, 1]}, "axis": null}, "text": {"field": "label"}}},
    {"width": 787, "height": 16, "view": {"stroke": "#000", "strokeWidth": 1.2, "fill": "#fff"}, "data": {"values": [{"label": "Green Playground (12-13-14-15)", "p": 0}]}, "mark": {"type": "text"}, "encoding": {"x": {"field": "p", "type": "quantitative", "scale": {"domain": [0, 1]}, "axis": null}, "text": {"field": "label"}}}
  ], "spacing": 0, "bounds": "flush", "resolve": {"scale": {"x": "independent"}}},
  {"hconcat": [
    {"width": 1, "height": 179, "view": {"fill": "#000", "stroke": null}, "data": {"values": [{}]}, "mark": {"type": "point", "opacity": 0}},
    {"width": 29, "height": 179, "view": {"fill": null, "stroke": null}, "data": {"values": [{}]}, "mark": {"type": "point", "opacity": 0}},
    {"width": 125, "height": 138,
     "data": {"values": [
       {"s":"Open high-rise","d":0,"t":41.16},{"s":"Open high-rise","d":100,"t":41.3},{"s":"Open high-rise","d":200,"t":41.44},{"s":"Open high-rise","d":280,"t":41.48},{"s":"Open high-rise","d":300,"t":41.46},{"s":"Open high-rise","d":400,"t":41.3},{"s":"Open high-rise","d":500,"t":41.14},
       {"s":"Open midrise","d":0,"t":41.24},{"s":"Open midrise","d":100,"t":41.33},{"s":"Open midrise","d":200,"t":41.41},{"s":"Open midrise","d":280,"t":41.37},{"s":"Open midrise","d":350,"t":41.22},{"s":"Open midrise","d":400,"t":41.24},{"s":"Open midrise","d":500,"t":41.37}
     ]},
     "encoding": {"x": {"field": "d", "type": "quantitative", "scale": {"domain": [-17, 519], "nice": false, "zero": false}, "axis": {"title": "Distance", "values": [0,100,200,300,400,500], "format": "d"}}},
     "layer": [
       {"data": {"values": [{"d":261},{"d":280}]}, "mark": {"type": "rule", "color": "#a3adad", "strokeWidth": 0.8}, "encoding": {}},
       {"data": {"values": [
         {"s":"Open high-rise","d":10,"t":41.6},{"s":"Open high-rise","d":50,"t":40.7},{"s":"Open high-rise","d":100,"t":41.8},{"s":"Open high-rise","d":150,"t":40.9},{"s":"Open high-rise","d":200,"t":42.0},{"s":"Open high-rise","d":250,"t":41.0},{"s":"Open high-rise","d":300,"t":41.9},{"s":"Open high-rise","d":350,"t":40.9},{"s":"Open high-rise","d":400,"t":41.7},{"s":"Open high-rise","d":450,"t":40.7},{"s":"Open high-rise","d":500,"t":41.5},
         {"s":"Open midrise","d":20,"t":40.8},{"s":"Open midrise","d":80,"t":41.7},{"s":"Open midrise","d":140,"t":41.0},{"s":"Open midrise","d":190,"t":41.9},{"s":"Open midrise","d":240,"t":40.9},{"s":"Open midrise","d":290,"t":41.8},{"s":"Open midrise","d":340,"t":40.8},{"s":"Open midrise","d":390,"t":41.7},{"s":"Open midrise","d":440,"t":40.9},{"s":"Open midrise","d":490,"t":41.8}
       ]}, "mark": {"type": "point"},
        "encoding": {"y": {"field": "t", "type": "quantitative", "scale": {"domain": [39.73, 44.22], "nice": false, "zero": false}},
          "color": {"field": "s", "type": "nominal", "scale": {"domain": ["Open high-rise","Open midrise"], "range": ["#4656b4","#3db44a"]}}}},
       {"mark": {"type": "line", "strokeWidth": 1.5, "interpolate": "monotone"},
        "encoding": {"y": {"field": "t", "type": "quantitative", "scale": {"domain": [39.73, 44.22], "nice": false, "zero": false}, "axis": {"title": "Temperature(°C)01.07.2019", "values": [40,41,42,43,44], "format": ".1f"}},
          "color": {"field": "s", "type": "nominal", "scale": {"domain": ["Open high-rise","Open midrise"], "range": ["#4656b4","#3db44a"]}, "legend": {"title": "Stations"}}}}
     ]},
    {"width": 42, "height": 179, "view": {"fill": null, "stroke": null}, "data": {"values": [{}]}, "mark": {"type": "point", "opacity": 0}},
    {"width": 1, "height": 179, "view": {"fill": "#000", "stroke": null}, "data": {"values": [{}]}, "mark": {"type": "point", "opacity": 0}},
    {"width": 29, "height": 179, "view": {"fill": null, "stroke": null}, "data": {"values": [{}]}, "mark": {"type": "point", "opacity": 0}},
    {"width": 135, "height": 138,
     "data": {"values": [
       {"d":0,"t":40.225},{"d":20,"t":40.233},{"d":40,"t":40.24},{"d":55,"t":40.246},{"d":60,"t":40.257},{"d":70,"t":40.263},{"d":78,"t":40.281},{"d":85,"t":40.273},{"d":100,"t":40.257}
     ]},
     "encoding": {"x": {"field": "d", "type": "quantitative", "scale": {"domain": [-5.5, 106], "nice": false, "zero": false}, "axis": {"title": "Distance", "values": [0,20,40,60,80,100], "format": "d"}}},
     "layer": [
       {"data": {"values": [{"d":76}]}, "mark": {"type": "rule", "color": "#a3adad", "strokeWidth": 0.8}, "encoding": {}},
       {"data": {"values": [{"d":5,"t":40.28},{"d":25,"t":40.15},{"d":45,"t":40.36},{"d":62,"t":40.12},{"d":82,"t":40.52},{"d":95,"t":40.2}]}, "mark": {"type": "point", "color": "#8fb3bf"},
        "encoding": {"y": {"field": "t", "type": "quantitative", "scale": {"domain": [39.97, 40.63], "nice": false, "zero": false}}}},
       {"mark": {"type": "line", "strokeWidth": 1.5, "color": "#3d9cc4"},
        "encoding": {"y": {"field": "t", "type": "quantitative", "scale": {"domain": [39.97, 40.63], "nice": false, "zero": false}, "axis": {"title": "Temperature(°C)01.07.2019", "values": [40.0,40.1,40.2,40.3,40.4,40.5,40.6], "format": ".1f"}}}}
     ]},
    {"width": 59, "height": 179, "view": {"fill": null, "stroke": null}, "data": {"values": [{}]}, "mark": {"type": "point", "opacity": 0}},
    {"width": 119, "height": 138,
     "data": {"values": [
       {"d":0,"t":40.095},{"d":10,"t":40.11},{"d":20,"t":40.13},{"d":25,"t":40.134},{"d":40,"t":40.139},{"d":50,"t":40.143},{"d":60,"t":40.143},{"d":70,"t":40.134},{"d":100,"t":40.11}
     ]},
     "encoding": {"x": {"field": "d", "type": "quantitative", "scale": {"domain": [-5.6, 106], "nice": false, "zero": false}, "axis": {"title": "Distance", "values": [0,20,40,60,80,100], "format": "d"}}},
     "layer": [
       {"data": {"values": [{"d":69}]}, "mark": {"type": "rule", "color": "#a3adad", "strokeWidth": 0.8}, "encoding": {}},
       {"data": {"values": [{"d":5,"t":40.02},{"d":30,"t":40.27},{"d":50,"t":40.15},{"d":65,"t":40.35},{"d":85,"t":40.06},{"d":95,"t":40.2}]}, "mark": {"type": "point", "color": "#8fb3bf"},
        "encoding": {"y": {"field": "t", "type": "quantitative", "scale": {"domain": [39.98, 40.42], "nice": false, "zero": false}}}},
       {"mark": {"type": "line", "strokeWidth": 1.5, "color": "#3d9cc4"},
        "encoding": {"y": {"field": "t", "type": "quantitative", "scale": {"domain": [39.98, 40.42], "nice": false, "zero": false}, "axis": {"title": "Temperature(°C)01.07.2019", "values": [40.0,40.1,40.2,40.3,40.4], "format": ".1f"}}}}
     ]},
    {"width": 55, "height": 179, "view": {"fill": null, "stroke": null}, "data": {"values": [{}]}, "mark": {"type": "point", "opacity": 0}},
    {"width": 118, "height": 138,
     "data": {"values": [
       {"d":0,"t":40.109},{"d":10,"t":40.133},{"d":20,"t":40.156},{"d":30,"t":40.179},{"d":40,"t":40.193},{"d":50,"t":40.203},{"d":55,"t":40.213},{"d":60,"t":40.233},{"d":65,"t":40.237},{"d":70,"t":40.247},{"d":80,"t":40.267},{"d":90,"t":40.273},{"d":100,"t":40.28}
     ]},
     "encoding": {"x": {"field": "d", "type": "quantitative", "scale": {"domain": [-6.3, 104.7], "nice": false, "zero": false}, "axis": {"title": "Distance", "values": [0,20,40,60,80,100], "format": "d"}}},
     "layer": [
       {"data": {"values": [{"d":78}]}, "mark": {"type": "rule", "color": "#a3adad", "strokeWidth": 0.8}, "encoding": {}},
       {"data": {"values": [{"d":5,"t":40.05},{"d":20,"t":40.3},{"d":45,"t":40.1},{"d":60,"t":40.4},{"d":75,"t":40.15},{"d":92,"t":40.38}]}, "mark": {"type": "point", "color": "#8fb3bf"},
        "encoding": {"y": {"field": "t", "type": "quantitative", "scale": {"domain": [39.97, 40.53], "nice": false, "zero": false}}}},
       {"mark": {"type": "line", "strokeWidth": 1.5, "color": "#3d9cc4"},
        "encoding": {"y": {"field": "t", "type": "quantitative", "scale": {"domain": [39.97, 40.53], "nice": false, "zero": false}, "axis": {"title": "Temperature(°C)01.07.2019", "values": [40.0,40.1,40.2,40.3,40.4,40.5], "format": ".1f"}}}}
     ]},
    {"width": 52, "height": 179, "view": {"fill": null, "stroke": null}, "data": {"values": [{}]}, "mark": {"type": "point", "opacity": 0}},
    {"width": 117, "height": 138,
     "data": {"values": [
       {"d":0,"t":40.398},{"d":20,"t":40.408},{"d":30,"t":40.416},{"d":50,"t":40.414},{"d":60,"t":40.421},{"d":70,"t":40.427},{"d":80,"t":40.427},{"d":100,"t":40.44}
     ]},
     "encoding": {"x": {"field": "d", "type": "quantitative", "scale": {"domain": [-4.7, 106], "nice": false, "zero": false}, "axis": {"title": "Distance", "values": [0,20,40,60,80,100], "format": "d"}}},
     "layer": [
       {"data": {"values": [{"d":69}]}, "mark": {"type": "rule", "color": "#a3adad", "strokeWidth": 0.8}, "encoding": {}},
       {"data": {"values": [{"d":5,"t":40.31},{"d":25,"t":40.5},{"d":45,"t":40.32},{"d":70,"t":40.6},{"d":85,"t":40.35},{"d":95,"t":40.52}]}, "mark": {"type": "point", "color": "#8fb3bf"},
        "encoding": {"y": {"field": "t", "type": "quantitative", "scale": {"domain": [40.17, 40.84], "nice": false, "zero": false}}}},
       {"mark": {"type": "line", "strokeWidth": 1.5, "color": "#3d9cc4"},
        "encoding": {"y": {"field": "t", "type": "quantitative", "scale": {"domain": [40.17, 40.84], "nice": false, "zero": false}, "axis": {"title": "Temperature(°C)01.07.2019", "values": [40.2,40.3,40.4,40.5,40.6,40.7,40.8], "format": ".1f"}}}}
     ]},
    {"width": 101, "height": 179, "view": {"fill": null, "stroke": null}, "data": {"values": [{}]}, "mark": {"type": "point", "opacity": 0}},
    {"width": 1, "height": 179, "view": {"fill": "#000", "stroke": null}, "data": {"values": [{}]}, "mark": {"type": "point", "opacity": 0}}
  ], "spacing": 0, "bounds": "flush", "resolve": {"scale": {"color": "independent", "x": "independent", "y": "independent"}, "legend": {"color": "independent"}}},
  {"width": 984, "height": 2, "view": {"fill": "#000", "stroke": null}, "data": {"values": [{}]}, "mark": {"type": "point", "opacity": 0, "size": 0, "strokeWidth": 0}}
]
}
